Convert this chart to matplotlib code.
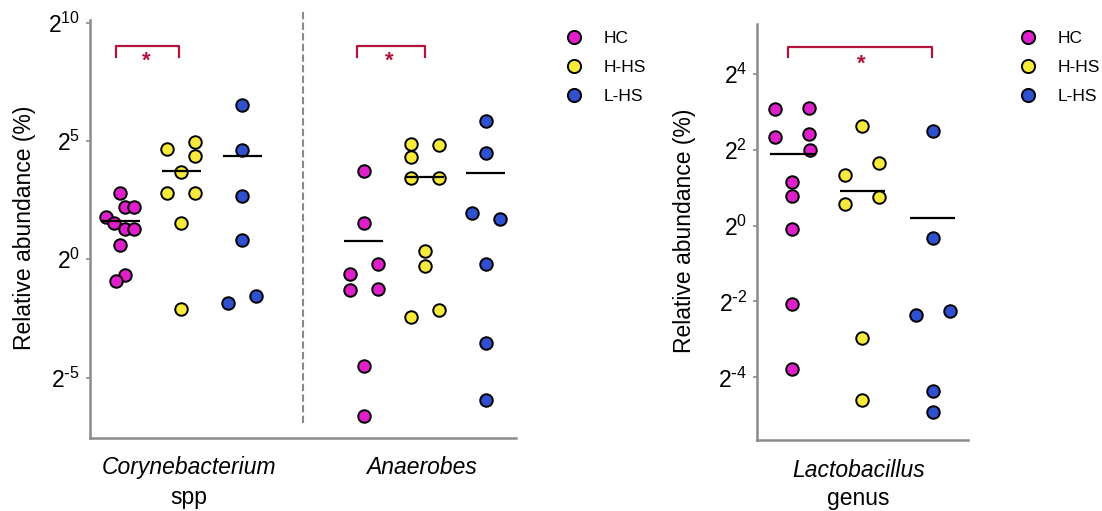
import numpy as np
import matplotlib
matplotlib.use("Agg")
import matplotlib.pyplot as plt
from matplotlib.lines import Line2D
from matplotlib.ticker import FixedLocator, FixedFormatter, NullLocator
import matplotlib.transforms as mtransforms

plt.rcParams['font.family'] = ['Liberation Sans', 'DejaVu Sans']
plt.rcParams['mathtext.default'] = 'regular'

groups = ['HC', 'H-HS', 'L-HS']
colors = ['#DE1FCA', '#F7EA3A', '#2F50CF']
red = '#B3143C'

# log2 of relative abundance (%)
coryne_hc = [2.78, 1.79, 2.19, 2.19, 1.54, 1.26, 1.29, 0.59, -0.66, -0.92]
coryne_hhs = [4.65, 4.97, 4.38, 3.67, 2.78, 2.82, 1.54, -2.12]
coryne_lhs = [6.50, 4.62, 2.67, 0.81, -1.57, -1.85]
anaer_hc = [3.74, 1.54, -0.21, -0.64, -1.28, -1.26, -4.49, -6.61]
anaer_hhs = [4.87, 4.82, 4.31, 3.42, 3.42, 0.35, -0.28, -2.16, -2.44]
anaer_lhs = [5.86, 4.50, 1.94, 1.72, -0.18, -3.55, -5.93]
lacto_hc = [3.06, 3.09, 2.34, 2.41, 2.00, 1.14, 0.78, -0.09, -2.08, -3.78]
lacto_hhs = [2.62, 1.64, 1.32, 0.57, 0.74, -2.96, -4.59]
lacto_lhs = [2.49, -0.33, -2.26, -2.35, -4.37, -4.91]

# horizontal lines as drawn (log2)
coryne_line = [1.60, 3.73, 4.38]
anaer_line = [0.78, 3.47, 3.64]
lacto_line = [1.88, 0.91, 0.19]

# scatter spread inside each column (column widths)
coryne_hc_dx = [0, -0.23, 0.07, 0.23, -0.10, 0.07, 0.23, 0, 0.08, -0.08]
coryne_hhs_dx = [-0.23, 0.23, 0.23, 0, -0.23, 0.23, 0, 0]
coryne_lhs_dx = [0, 0, 0, 0, 0.22, -0.23]
anaer_hc_dx = [0, 0, 0.23, -0.23, -0.23, 0.23, 0, 0]
anaer_hhs_dx = [-0.23, 0.23, -0.23, -0.23, 0.23, 0, 0, 0.23, -0.23]
anaer_lhs_dx = [0, 0, -0.23, 0.23, 0, 0, 0]
lacto_hc_dx = [-0.24, 0.24, -0.24, 0.24, 0.25, 0, 0, 0, 0, 0]
lacto_hhs_dx = [0, 0.24, -0.25, -0.25, 0.24, 0, 0]
lacto_lhs_dx = [0, 0, 0.25, -0.24, 0, 0]


def column(ax, x0, vals, dx, color):
    ax.plot(x0 + np.array(dx), 2.0 ** np.array(vals), 'o', ms=9, mfc=color,
            mec='black', mew=1.4, clip_on=False, zorder=3)


def hline(ax, x0, v):
    ax.plot([x0 - 0.32, x0 + 0.32], [2.0 ** v, 2.0 ** v], color='black',
            lw=1.6, zorder=4, solid_capstyle='butt')


def bracket(ax, x1, x2, top, low, xs):
    ax.plot([x1, x1, x2, x2], [2.0 ** low, 2.0 ** top, 2.0 ** top, 2.0 ** low],
            color=red, lw=1.6, clip_on=False)
    ax.text(xs, 2.0 ** (low - 0.2), '*', color=red, fontsize=16,
            fontweight='bold', ha='center', va='center')


def style(ax, ticks, lo, hi):
    ax.set_yscale('log', base=2)
    ax.set_ylim(2.0 ** lo, 2.0 ** hi)
    ax.yaxis.set_major_locator(FixedLocator([2.0 ** t for t in ticks]))
    labels = []
    for t in ticks:
        if t < 0:
            labels.append(r'$2^{\text{-}%d}$' % (-t))
        else:
            labels.append(r'$2^{%d}$' % t)
    ax.yaxis.set_major_formatter(FixedFormatter(labels))
    ax.yaxis.set_minor_locator(NullLocator())
    ax.set_xticks([])
    for s in ['top', 'right']:
        ax.spines[s].set_visible(False)
    for s in ['left', 'bottom']:
        ax.spines[s].set_color('#8a8a8a')
        ax.spines[s].set_linewidth(1.8)
    ax.tick_params(axis='y', length=3, width=1.2, color='#8a8a8a',
                   labelsize=16.5, pad=4)


fig = plt.figure(figsize=(11.02, 5.11), dpi=100)

# left panel
ax1 = fig.add_axes([90 / 1102, 73 / 511, 426 / 1102, 418 / 511])
style(ax1, [-5, 0, 5, 10], -7.55, 10.11)
ax1.set_xlim(-0.5, 6.5)
for x0, vals, dx, c in zip([0, 1, 2], [coryne_hc, coryne_hhs, coryne_lhs],
                           [coryne_hc_dx, coryne_hhs_dx, coryne_lhs_dx], colors):
    column(ax1, x0, vals, dx, c)
for x0, vals, dx, c in zip([4, 5, 6], [anaer_hc, anaer_hhs, anaer_lhs],
                           [anaer_hc_dx, anaer_hhs_dx, anaer_lhs_dx], colors):
    column(ax1, x0, vals, dx, c)
for x0, v in zip([0, 1, 2], coryne_line):
    hline(ax1, x0, v)
for x0, v in zip([4, 5, 6], anaer_line):
    hline(ax1, x0, v)
ax1.plot([3, 3], [2.0 ** -6.92, 2.0 ** 10.53], color='#8a8a8a', lw=1.5,
         ls=(0, (3.5, 1.6)), clip_on=False)
bracket(ax1, -0.08, 0.97, 9.01, 8.55, 0.43)
bracket(ax1, 3.89, 5.0, 9.01, 8.55, 4.41)
ax1.set_ylabel('Relative abundance (%)', fontsize=16.5)
ax1.yaxis.set_label_coords(-0.127, 0.502)
tr1 = mtransforms.blended_transform_factory(ax1.transData, ax1.transAxes)
ax1.text(1.12, -0.071, 'Corynebacterium', style='italic', fontsize=16.5,
         ha='center', va='center', transform=tr1)
ax1.text(1.12, -0.142, 'spp', fontsize=16.5, ha='center', va='center',
         transform=tr1)
ax1.text(4.95, -0.071, 'Anaerobes', style='italic', fontsize=16.5,
         ha='center', va='center', transform=tr1)

# right panel
ax2 = fig.add_axes([757 / 1102, 71 / 511, 211 / 1102, 416 / 511])
style(ax2, [-4, -2, 0, 2, 4], -5.65, 5.31)
ax2.set_xlim(-0.5, 2.5)
for x0, vals, dx, c in zip([0, 1, 2], [lacto_hc, lacto_hhs, lacto_lhs],
                           [lacto_hc_dx, lacto_hhs_dx, lacto_lhs_dx], colors):
    column(ax2, x0, vals, dx, c)
for x0, v in zip([0, 1, 2], lacto_line):
    hline(ax2, x0, v)
bracket(ax2, -0.06, 1.99, 4.71, 4.45, 0.99)
ax2.set_ylabel('Relative abundance (%)', fontsize=16.5)
ax2.yaxis.set_label_coords(-0.289, 0.502)
tr2 = mtransforms.blended_transform_factory(ax2.transData, ax2.transAxes)
ax2.text(0.94, -0.074, 'Lactobacillus', style='italic', fontsize=16.5,
         ha='center', va='center', transform=tr2)
ax2.text(0.94, -0.141, 'genus', fontsize=16.5, ha='center', va='center',
         transform=tr2)

# legends
handles = [Line2D([], [], ls='none', marker='o', ms=9.5, mfc=c, mec='black',
                  mew=1.4) for c in colors]
for lx in [565, 1019]:
    fig.legend(handles, groups, loc='upper left',
               bbox_to_anchor=(lx / 1102, 1 - 31 / 511), frameon=False,
               fontsize=12.5, handlelength=1.0, handletextpad=1.2,
               labelspacing=0.8, borderpad=0, borderaxespad=0)

fig.savefig('out.png', dpi=100)
